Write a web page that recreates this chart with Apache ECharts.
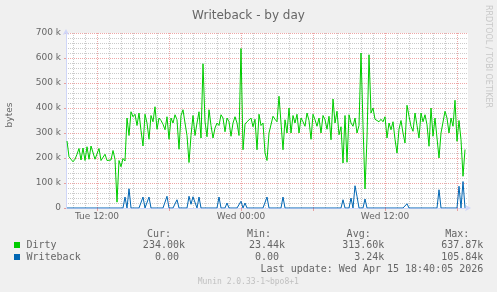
<!DOCTYPE html>
<html><head><meta charset="utf-8">
<script src="https://cdn.jsdelivr.net/npm/echarts@6/dist/echarts.min.js"></script>
<style>html,body{margin:0;padding:0;background:#F0F0F0}#c{width:497px;height:292px}</style>
</head><body><div id="c"></div>
<script>
// ---- data ----
const chartTitle = 'Writeback - by day';
const yAxisName = 'bytes';
const watermark = 'RRDTOOL / TOBI OETIKER';
// samples: hours since Tue 00:00, first sample Tue 09:30, every 10 minutes
const sampleStartHour = 9.5;
const sampleStepHours = 1 / 6;
// Dirty, in thousands of bytes
const dirtyK = [
  268,205,195,185,195,215,238,192,240,190,
  245,195,248,250,195,190,238,190,192,215,
  190,198,192,230,195,23.44,190,165,198,188,
  360,290,385,365,375,330,380,310,248,375,
  340,275,370,345,405,315,360,350,335,313,
  365,275,360,340,373,353,235,370,393,340,
  290,182,290,370,290,340,385,280,577,345,
  285,393,330,280,320,340,330,373,360,305,
  360,345,287,340,365,340,290,637.87,233,335,
  345,340,360,325,355,233,375,330,340,220,
  190,300,307,367,355,345,447,340,233,353,
  300,400,300,370,340,375,300,360,345,327,
  380,350,275,375,353,327,360,300,370,353,
  315,367,273,436,340,387,293,325,180,370,
  183,373,340,327,360,300,330,620,333,76,
  280,613,380,400,355,360,345,355,345,365,
  280,340,313,345,275,220,315,350,300,260,
  411,367,327,307,380,330,280,380,345,373,
  333,247,400,287,360,360,200,300,293,387,
  360,300,360,327,431,267,350,273,127,234
];
// Writeback, in thousands of bytes
const writebackK = [
  0,0,0,0,0,0,0,0,0,0,
  0,0,0,0,0,0,0,0,0,0,
  0,0,0,0,0,0,0,0,0,44,
  0,77,0,0,0,0,0,0,44,0,
  0,44,0,0,0,0,0,0,0,0,
  47,0,0,0,0,33,0,0,0,0,
  0,47,15,45,42,0,44,0,0,0,
  0,0,0,0,0,0,44,0,0,0,
  20,0,0,0,0,0,0,27,0,20,
  0,0,0,0,0,0,0,0,0,0,
  44,0,0,0,0,0,0,0,44,0,
  0,0,0,0,0,0,0,0,0,0,
  0,0,0,0,0,0,0,0,0,0,
  0,0,0,0,0,0,0,0,33,0,
  0,0,40,0,89,47,0,0,0,36,
  0,0,0,0,0,0,0,0,0,0,
  0,0,0,0,0,0,0,0,0,0,
  17,0,0,0,0,0,0,0,0,0,
  0,0,0,0,0,0,73,0,0,0,
  0,0,0,0,0,0,87,0,105.84,0
];
const timeTickHours = [12, 24, 36];
const timeTickLabels = ['Tue 12:00', 'Wed 00:00', 'Wed 12:00'];
const seriesNames = ['Dirty', 'Writeback'];
const legendHeaders = ['Cur:', 'Min:', 'Avg:', 'Max:'];
const dirtyStats = ['234.00k', '23.44k', '313.60k', '637.87k'];
const writebackStats = ['0.00', '0.00', '3.24k', '105.84k'];
const lastUpdate = 'Last update: Wed Apr 15 18:40:05 2026';
const footer = 'Munin 2.0.33-1~bpo8+1';

// ---- layout ----
const xMin = 9 + 25 / 60;
const xMax = xMin + 33.5;
const colors = ['#00CC00', '#0066B3'];
const FONT = '#666666';
const axisColor = '#CFD6F8';
const majorGrid = 'rgba(222,80,80,0.5)';
const minorGrid = 'rgba(140,140,140,0.45)';

const dirtyData = dirtyK.map((v, i) => [sampleStartHour + i * sampleStepHours, v]);
const wbData = writebackK.map((v, i) => [sampleStartHour + i * sampleStepHours, v]);

const vLines = [];
for (let h = Math.ceil(xMin); h <= Math.floor(xMax); h++) {
  vLines.push({ xAxis: h, lineStyle: { color: h % 6 === 0 ? majorGrid : minorGrid, type: [1, 1], width: 1 } });
}
const majorHours = [];
for (let h = Math.ceil(xMin); h <= Math.floor(xMax); h++) if (h % 6 === 0) majorHours.push(h);

const mono = '"DejaVu Sans Mono", monospace';
const sans = '"DejaVu Sans", sans-serif';
const valueRight = [185, 285, 384.3, 483.3];
const headerRight = [171, 271, 370.7, 469.3];
const charW = 6.02;
const graphics = [];
legendHeaders.forEach((t, k) => graphics.push({ type: 'text', x: headerRight[k], y: 234, style: { text: t, fill: FONT, font: '10px ' + mono, align: 'right', verticalAlign: 'middle' } }));
[[dirtyStats, 245.5], [writebackStats, 257.5]].forEach(([stats, y], r) => {
  graphics.push({ type: 'rect', shape: { x: 14, y: y - 3.5, width: 6, height: 6 }, style: { fill: colors[r] } });
  graphics.push({ type: 'text', x: 26.5, y: y, style: { text: seriesNames[r], fill: FONT, font: '10px ' + mono, align: 'left', verticalAlign: 'middle' } });
  stats.forEach((t, k) => graphics.push({ type: 'text', x: valueRight[k] - (/[a-zA-Z]$/.test(t) ? 0 : charW), y: y, style: { text: t, fill: FONT, font: '10px ' + mono, align: 'right', verticalAlign: 'middle' } }));
});
graphics.push({ type: 'text', x: 483.3, y: 269.5, style: { text: lastUpdate, fill: FONT, font: '10px ' + mono, align: 'right', verticalAlign: 'middle' } });
graphics.push({ type: 'text', x: 248.3, y: 281.5, style: { text: footer, fill: '#c0c0c0', font: '8px ' + mono, align: 'center', verticalAlign: 'middle' } });
graphics.push({ type: 'text', x: 488, y: 56.5, rotation: -Math.PI / 2, style: { text: watermark, fill: '#c8c8c8', font: '8px ' + sans, align: 'center', verticalAlign: 'middle' } });
graphics.push({ type: 'text', x: 10, y: 115, rotation: Math.PI / 2, style: { text: yAxisName, fill: FONT, font: '9px ' + sans, align: 'center', verticalAlign: 'middle' } });

const chart = echarts.init(document.getElementById('c'), null, { renderer: 'canvas' });
chart.setOption({
  animation: false,
  backgroundColor: '#F0F0F0',
  title: { text: chartTitle, left: 'center', top: 5, textStyle: { color: FONT, fontFamily: sans, fontSize: 12, fontWeight: 'normal' } },
  grid: { left: 66, top: 33, width: 402, height: 175, show: true, backgroundColor: '#FFFFFF', borderWidth: 0 },
  xAxis: {
    type: 'value', min: xMin, max: xMax,
    axisLine: { show: true, onZero: false, lineStyle: { color: axisColor, width: 1 }, symbol: ['none', 'arrow'], symbolSize: [5, 6], symbolOffset: [0, 3] },
    axisTick: { show: true, customValues: majorHours, length: 3, lineStyle: { color: majorGrid } },
    axisLabel: { customValues: timeTickHours, formatter: v => timeTickLabels[timeTickHours.indexOf(v)], color: FONT, fontFamily: sans, fontSize: 9, margin: 4 },
    splitLine: { show: false }
  },
  yAxis: {
    type: 'value', min: 0, max: 700, interval: 100,
    axisLine: { show: true, lineStyle: { color: axisColor, width: 1 }, symbol: ['none', 'arrow'], symbolSize: [5, 6], symbolOffset: [0, 4] },
    axisTick: { show: true, length: 2, lineStyle: { color: majorGrid } },
    axisLabel: { formatter: v => v === 0 ? '0' : v + ' k', color: FONT, fontFamily: sans, fontSize: 9, margin: 5 },
    splitLine: { show: true, lineStyle: { color: majorGrid, type: [1, 1], width: 1 } },
    minorTick: { show: false, splitNumber: 5 },
    minorSplitLine: { show: true, lineStyle: { color: minorGrid, type: [1, 1], width: 1 } }
  },
  graphic: graphics,
  series: [
    { type: 'line', data: [], silent: true, z: 1,
      markLine: { silent: true, z: 1, symbol: ['none', 'none'], label: { show: false }, animation: false, data: vLines } },
    { name: seriesNames[0], type: 'line', data: dirtyData, showSymbol: false, z: 3, lineStyle: { color: colors[0], width: 1 }, itemStyle: { color: colors[0] } },
    { name: seriesNames[1], type: 'line', data: wbData, showSymbol: false, z: 4, lineStyle: { color: colors[1], width: 1 }, itemStyle: { color: colors[1] } }
  ]
});
</script></body></html>
